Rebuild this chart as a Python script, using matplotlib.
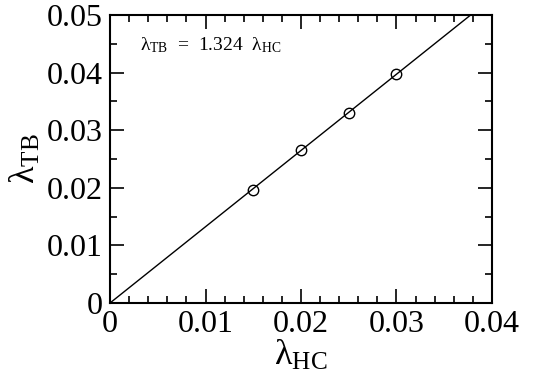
import numpy as np
import matplotlib
matplotlib.use("Agg")
import matplotlib.pyplot as plt
from matplotlib.ticker import MultipleLocator, FuncFormatter

# data
lam_hc = [0.015, 0.020, 0.025, 0.030]
lam_tb = [0.0197, 0.0265, 0.0330, 0.0398]
slope = 1.324
fit_x = [0.0, 0.04]

plt.rcParams['font.family'] = ['Liberation Serif', 'DejaVu Serif']
plt.rcParams['mathtext.fontset'] = 'custom'
plt.rcParams['mathtext.rm'] = 'Liberation Serif'
plt.rcParams['mathtext.it'] = 'Liberation Serif:italic'

fig = plt.figure(figsize=(5.44, 3.72), dpi=100)
ax = fig.add_axes([110/544, 1-303/372, 382/544, 288/372])

ax.plot(fit_x, [slope*v for v in fit_x], color='black', lw=1.0)
ax.plot(lam_hc, lam_tb, 'o', mfc='none', mec='black', ms=7.5, mew=1.0)

ax.set_xlim(0, 0.04)
ax.set_ylim(0, 0.05)
ax.xaxis.set_major_locator(MultipleLocator(0.01))
ax.xaxis.set_minor_locator(MultipleLocator(0.002))
ax.yaxis.set_major_locator(MultipleLocator(0.01))
ax.yaxis.set_minor_locator(MultipleLocator(0.005))

def fmt(v, pos):
    if abs(v) < 1e-12:
        return '0'
    return f'{v:.2f}'
ax.xaxis.set_major_formatter(FuncFormatter(fmt))
ax.yaxis.set_major_formatter(FuncFormatter(fmt))

ax.tick_params(which='both', direction='in', top=True, right=True, labelsize=23, width=1.2)
ax.tick_params(which='major', length=10, pad=5)
ax.tick_params(which='minor', length=5)
for s in ax.spines.values():
    s.set_linewidth(1.5)

ax.set_xlabel('λ$_\\mathrm{HC}$', fontsize=26, labelpad=0)
ax.set_ylabel('λ$_\\mathrm{TB}$', fontsize=26, labelpad=3)

ax.text(0.0031, 0.0448, 'λ$_\\mathrm{TB}$  =  1.324  λ$_\\mathrm{HC}$', fontsize=14, va='center', ha='left')

fig.savefig('out.png', dpi=100)
